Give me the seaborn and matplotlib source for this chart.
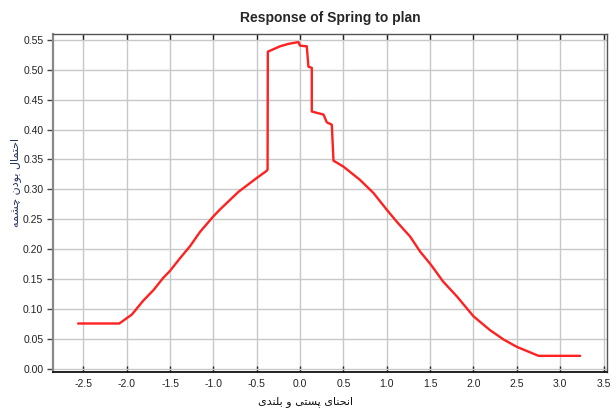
import matplotlib
matplotlib.use("Agg")
import matplotlib.pyplot as plt
import seaborn as sns
import pandas as pd
import numpy as np

# curve values
curve_x = [-2.56, -2.085, -1.94, -1.81, -1.69, -1.58, -1.50, -1.385, -1.27, -1.154,
           -1.00, -0.92, -0.71, -0.50, -0.385, -0.375, -0.372, -0.23, -0.135, -0.02,
           0.00, 0.077, 0.096, 0.135, 0.135, 0.27, 0.308, 0.366, 0.385, 0.50,
           0.69, 0.846, 1.00, 1.115, 1.27, 1.385, 1.51, 1.65, 1.81, 2.00,
           2.19, 2.35, 2.50, 2.75, 3.23]
curve_y = [0.076, 0.076, 0.091, 0.114, 0.132, 0.152, 0.164, 0.185, 0.205, 0.229,
           0.255, 0.267, 0.296, 0.319, 0.331, 0.333, 0.530, 0.539, 0.543, 0.546,
           0.540, 0.539, 0.505, 0.503, 0.430, 0.425, 0.412, 0.408, 0.348, 0.338,
           0.316, 0.294, 0.266, 0.246, 0.221, 0.196, 0.174, 0.146, 0.121, 0.088,
           0.065, 0.049, 0.037, 0.022, 0.022]

x_ticks = [-2.5, -2.0, -1.5, -1.0, -0.5, 0.0, 0.5, 1.0, 1.5, 2.0, 2.5, 3.0, 3.5]
y_ticks = [0.0, 0.05, 0.10, 0.15, 0.20, 0.25, 0.30, 0.35, 0.40, 0.45, 0.50, 0.55]

title = "Response of Spring to plan"
x_label = "انحنای پستی و بلندی"
y_label = "احتمال بودن چشمه"

# matplotlib has no arabic shaping, so pick presentation forms by hand
# (isolated, final, initial, medial)
forms = {
    "ا": ("\uFE8D", "\uFE8E", None, None),
    "ب": ("\uFE8F", "\uFE90", "\uFE91", "\uFE92"),
    "ت": ("\uFE95", "\uFE96", "\uFE97", "\uFE98"),
    "ح": ("\uFEA1", "\uFEA2", "\uFEA3", "\uFEA4"),
    "د": ("\uFEA9", "\uFEAA", None, None),
    "س": ("\uFEB1", "\uFEB2", "\uFEB3", "\uFEB4"),
    "ش": ("\uFEB5", "\uFEB6", "\uFEB7", "\uFEB8"),
    "ل": ("\uFEDD", "\uFEDE", "\uFEDF", "\uFEE0"),
    "م": ("\uFEE1", "\uFEE2", "\uFEE3", "\uFEE4"),
    "ن": ("\uFEE5", "\uFEE6", "\uFEE7", "\uFEE8"),
    "ه": ("\uFEE9", "\uFEEA", "\uFEEB", "\uFEEC"),
    "و": ("\uFEED", "\uFEEE", None, None),
    "ی": ("\uFBFC", "\uFBFD", "\uFBFE", "\uFBFF"),
    "پ": ("\uFB56", "\uFB57", "\uFB58", "\uFB59"),
    "چ": ("\uFB7A", "\uFB7B", "\uFB7C", "\uFB7D"),
}


def shape(text):
    out = []
    for i, ch in enumerate(text):
        if ch not in forms:
            out.append(ch)
            continue
        prev = text[i - 1] if i > 0 else " "
        nxt = text[i + 1] if i + 1 < len(text) else " "
        join_prev = prev in forms and forms[prev][2] is not None
        join_next = forms[ch][2] is not None and nxt in forms
        iso, fin, ini, med = forms[ch]
        if join_prev and join_next:
            out.append(med)
        elif join_prev:
            out.append(fin)
        elif join_next:
            out.append(ini)
        else:
            out.append(iso)
    return "".join(out)[::-1]


df = pd.DataFrame({"x": curve_x, "y": curve_y})

sns.set_style("whitegrid")
plt.rcParams["font.family"] = ["Liberation Sans", "DejaVu Sans"]

fig = plt.figure(figsize=(6.14, 4.12), dpi=100)
ax = fig.add_axes([53 / 614, 1 - 372 / 412, 554 / 614, 338 / 412])

sns.lineplot(data=df, x="x", y="y", ax=ax, color="#ff2020", linewidth=1.7,
             estimator=None, sort=False)

ax.set_xlim(-2.85, 3.54)
ax.set_ylim(-0.005, 0.5595)
ax.set_xticks(x_ticks)
ax.set_yticks(y_ticks)
ax.set_xticklabels([f"{v:.1f}" for v in x_ticks])
ax.set_yticklabels([f"{v:.2f}" for v in y_ticks])
ax.grid(True, color="#c8c8c8", linewidth=1.0)

for side, sp in ax.spines.items():
    sp.set_visible(True)
    sp.set_color("#555555")
    sp.set_linewidth(1.0)
ax.spines["left"].set_color("#888888")
ax.spines["left"].set_linewidth(1.6)
ax.spines["bottom"].set_color("#111111")
ax.spines["bottom"].set_linewidth(1.3)

ax.tick_params(axis="x", which="both", direction="in", top=True, bottom=True,
               length=4, width=1, color="#222222", labelsize=7.5, pad=5,
               labelcolor="#222222")
ax.tick_params(axis="y", which="both", direction="out", left=True, length=4,
               width=1, color="#444444", labelsize=7.5, pad=3,
               labelcolor="#222222")

ax.set_title(title, fontsize=10, fontweight="bold", pad=9)
ax.set_xlabel(shape(x_label), fontsize=8, family=["DejaVu Sans"], color="#111111")
ax.set_ylabel(shape(y_label), fontsize=8, family=["DejaVu Sans"], color="#26335c")
ax.xaxis.set_label_coords(0.455, -0.072)
ax.yaxis.set_label_coords(-0.058, 0.56)

fig.savefig("out.png", dpi=100)
